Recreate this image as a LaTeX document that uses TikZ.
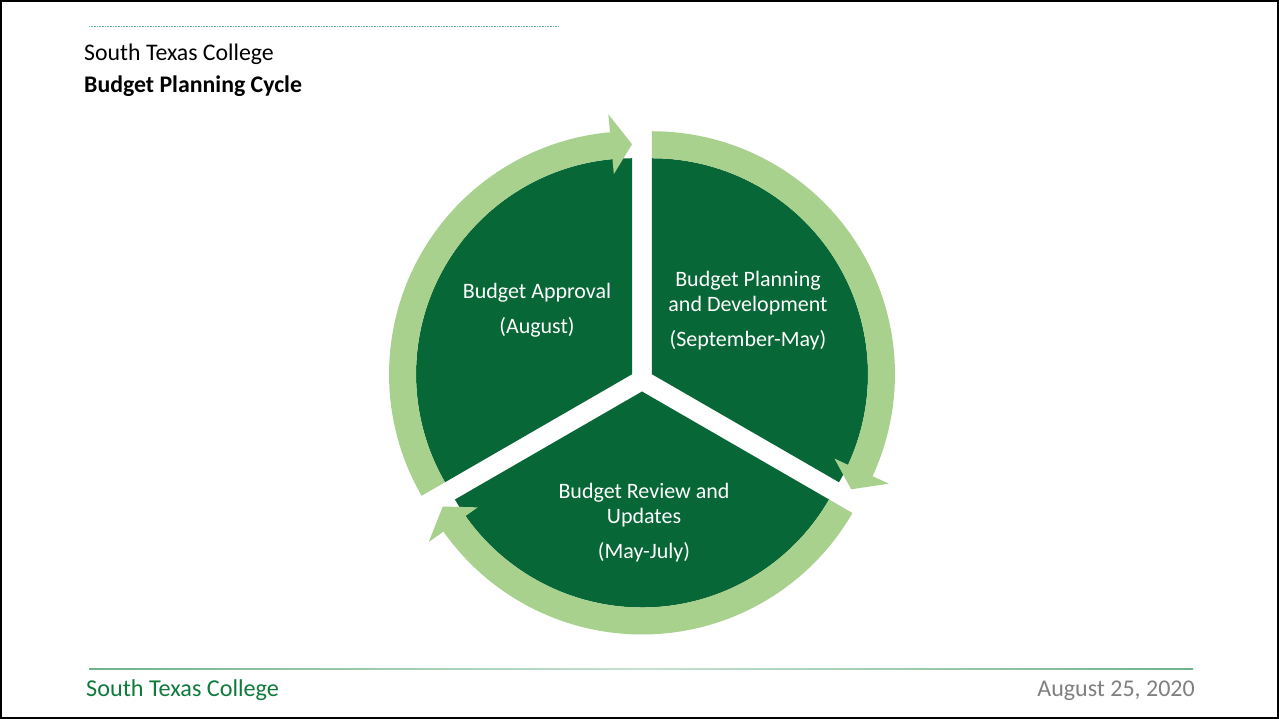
\documentclass[tikz,border=0pt]{standalone}
\usepackage{fontspec}
\setmainfont{Carlito}
\usetikzlibrary{calc}
\definecolor{sectorgreen}{RGB}{8,103,55}
\definecolor{ringgreen}{RGB}{169,209,142}
\definecolor{footgreen}{RGB}{16,122,60}
\definecolor{dategray}{RGB}{128,128,128}
\definecolor{dotteal}{RGB}{100,175,155}
\definecolor{lineA}{RGB}{110,178,140}
\definecolor{lineB}{RGB}{200,225,210}
\newcommand{\cyclearrow}[3]{%
  \pgfmathsetmacro{\headang}{#3+5.2}%
  \begin{scope}[shift={(#1)}]
    \fill[ringfill] (#2:243) arc[start angle=#2, end angle=\headang, radius=243]
      -- (\headang:261) -- (#3:230) -- (\headang:201) -- (\headang:216)
      arc[start angle=\headang, end angle=#2, radius=216] -- cycle;
  \end{scope}}
\tikzset{
  sectorfill/.style={fill=sectorgreen},
  ringfill/.style={fill=ringgreen},
  sectortext/.style={text=white, font=\fontsize{22}{25}\selectfont, align=center, inner sep=0pt},
  headtext/.style={anchor=west, inner sep=0pt, font=\fontsize{23.8}{28}\selectfont},
}
\begin{document}
\begin{tikzpicture}[x=1pt,y=1pt]
\path[use as bounding box, fill=white] (0,0) rectangle (1279,719);
\draw[line width=2.2pt] (1.1,1.1) rectangle (1277.9,717.9);
% header
\draw[dotteal, line width=0.8pt, dash pattern=on 0.8pt off 0.8pt] (89,693) -- (559,693);
\node[headtext] (college) at (84,665) {South Texas College};
\node[headtext, font=\fontsize{23.8}{28}\selectfont\bfseries] (title) at (84,633) {Budget Planning Cycle};
% centres
\coordinate (O) at (642,339);
\coordinate (L) at ($(O)+(150:11.5)$);
\coordinate (R) at ($(O)+(30:11.5)$);
\coordinate (B) at ($(O)+(270:11.5)$);
% sectors
\fill[sectorfill] (L) -- ++(90:216) arc[start angle=90, end angle=210, radius=216] -- cycle;
\fill[sectorfill] (R) -- ++(-30:216) arc[start angle=-30, end angle=90, radius=216] -- cycle;
\fill[sectorfill] (B) -- ++(210:216) arc[start angle=210, end angle=330, radius=216] -- cycle;
% ring arrows
\cyclearrow{L}{210}{90}
\cyclearrow{R}{90}{-30}
\cyclearrow{B}{330}{210}
% labels
\node[sectortext] (approval) at (537,426) {Budget Approval};
\node[sectortext] (august) at (537,392) {(August)};
\node[sectortext] (planning) at (748,426) {Budget Planning\\and Development};
\node[sectortext] (sepmay) at (748,379) {(September-May)};
\node[sectortext] (review) at (644,214) {Budget Review and\\Updates};
\node[sectortext] (mayjuly) at (644,167) {(May-July)};
% footer
\shade[left color=lineA, right color=lineA, middle color=lineB] (89,49.4) rectangle (1193,50.8);
\node[anchor=west, inner sep=0pt, text=footgreen, font=\fontsize{24.2}{28}\selectfont] (footer) at (86,29) {South Texas College};
\node[anchor=east, inner sep=0pt, text=dategray, font=\fontsize{24}{28}\selectfont] (date) at (1195,28) {August 25, 2020};
\end{tikzpicture}
\end{document}
